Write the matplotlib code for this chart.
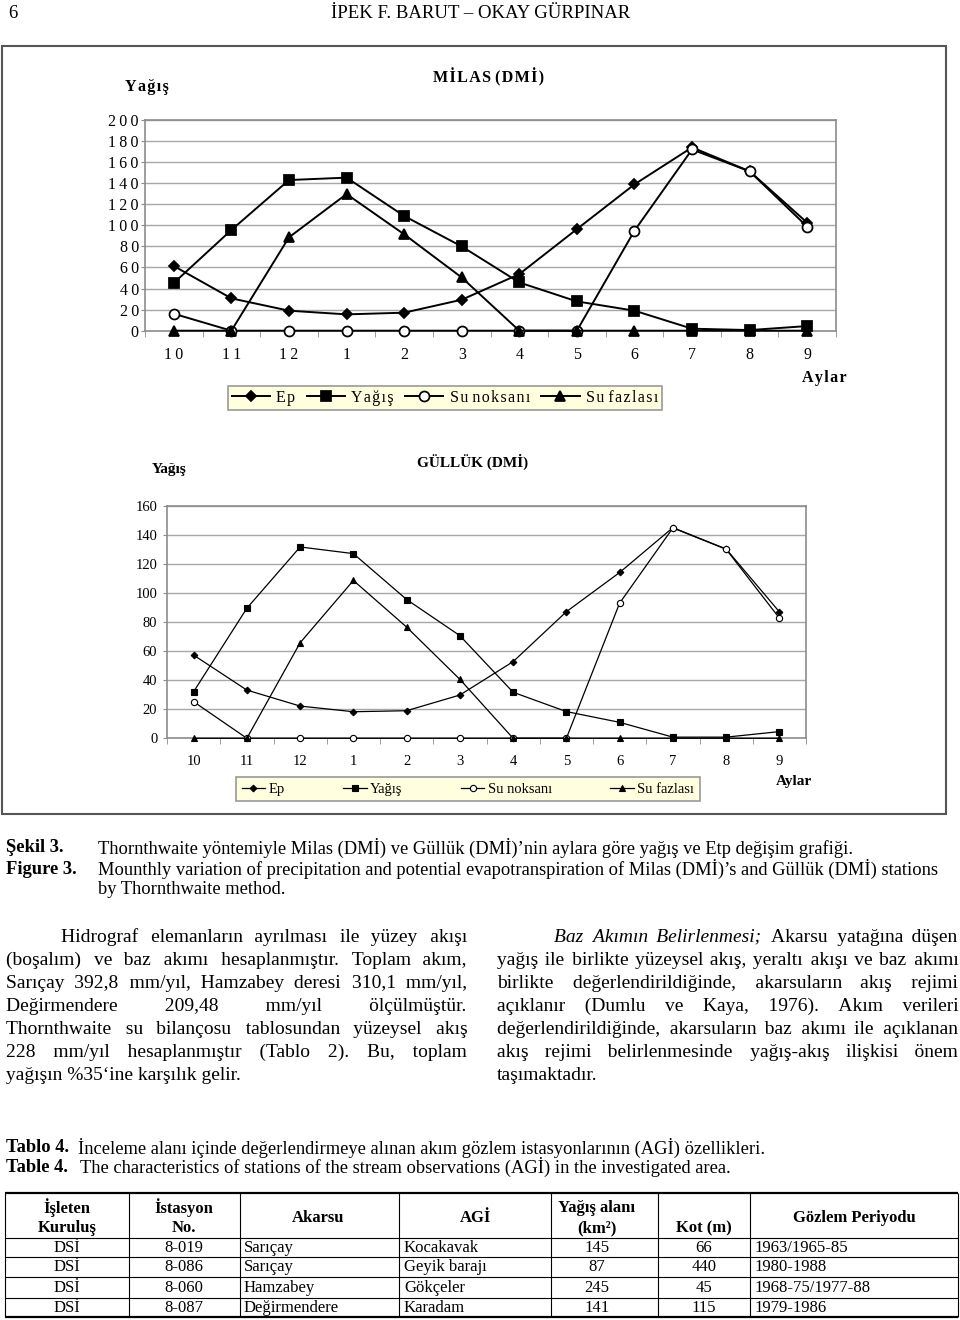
import numpy as np
import matplotlib
matplotlib.use("Agg")
from matplotlib import pyplot as plt
from matplotlib.patches import Rectangle
from matplotlib.font_manager import FontProperties

plt.rcParams['font.family'] = ['Liberation Serif', 'DejaVu Serif']

W, H = 960, 1320

months = ['10', '11', '12', '1', '2', '3', '4', '5', '6', '7', '8', '9']
series_names = ['Ep', 'Yağış', 'Su noksanı', 'Su fazlası']

# Milas (DMİ)
milas_ep = [61.4, 30.7, 19.0, 15.5, 17.1, 29.4, 53.7, 96.4, 138.9, 174.0, 151.3, 102.5]
milas_yagis = [45.3, 95.6, 143.0, 145.3, 108.9, 80.0, 45.8, 27.8, 19.0, 1.9, 0.6, 4.4]
milas_noksan = [16.1, 0, 0, 0, 0, 0, 0, 0, 94.9, 172.0, 151.3, 98.7]
milas_fazla = [0, 0, 88.6, 129.7, 91.5, 50.5, 0, 0, 0, 0, 0, 0]

# Güllük (DMİ)
gulluk_ep = [57.3, 33.2, 22.2, 18.3, 19.0, 29.8, 52.8, 87.2, 114.2, 145.1, 130.4, 87.1]
gulluk_yagis = [32.1, 89.6, 131.8, 127.2, 95.6, 70.7, 31.7, 18.4, 11.0, 0.8, 0.8, 4.6]
gulluk_noksan = [25.2, 0, 0, 0, 0, 0, 0, 0, 93.1, 144.9, 130.2, 82.8]
gulluk_fazla = [0, 0, 65.8, 108.7, 76.6, 40.6, 0, 0, 0, 0, 0, 0]

# table 4
tbl_kurulus = ['DSİ', 'DSİ', 'DSİ', 'DSİ']
tbl_istasyon = ['8-019', '8-086', '8-060', '8-087']
tbl_akarsu = ['Sarıçay', 'Sarıçay', 'Hamzabey', 'Değirmendere']
tbl_agi = ['Kocakavak', 'Geyik barajı', 'Gökçeler', 'Karadam']
tbl_alan = [145, 87, 245, 141]
tbl_kot = [66, 440, 45, 115]
tbl_periyot = ['1963/1965-85', '1980-1988', '1968-75/1977-88', '1979-1986']

para_left = [
    'Hidrograf elemanların ayrılması ile yüzey akışı',
    '(boşalım) ve baz akımı hesaplanmıştır. Toplam akım,',
    'Sarıçay 392,8 mm/yıl, Hamzabey deresi 310,1 mm/yıl,',
    'Değirmendere 209,48 mm/yıl ölçülmüştür.',
    'Thornthwaite su bilançosu tablosundan yüzeysel akış',
    '228 mm/yıl hesaplanmıştır (Tablo 2). Bu, toplam',
    'yağışın %35‘ine karşılık gelir.',
]
para_right = [
    'Baz Akımın Belirlenmesi; Akarsu yatağına düşen',
    'yağış ile birlikte yüzeysel akış, yeraltı akışı ve baz akımı',
    'birlikte değerlendirildiğinde, akarsuların akış rejimi',
    'açıklanır (Dumlu ve Kaya, 1976). Akım verileri',
    'değerlendirildiğinde, akarsuların baz akımı ile açıklanan',
    'akış rejimi belirlenmesinde yağış-akış ilişkisi önem',
    'taşımaktadır.',
]

THIN = '\u2009'
HAIR = '\u200a'


def rect(l, t, r, b):
    return [l / W, 1 - b / H, (r - l) / W, (b - t) / H]


def spaced(s, sp):
    # letter spacing for the first chart, real spaces left alone
    if not sp:
        return s
    return ' '.join(sp.join(w) for w in s.split(' '))


fig = plt.figure(figsize=(9.6, 13.2), dpi=100)
page = fig.add_axes([0, 0, 1, 1])
page.set_xlim(0, W)
page.set_ylim(H, 0)
page.axis('off')

page.add_patch(Rectangle((2, 46), 944, 768, fill=False, ec='#555555', lw=1.5))


def chart(box, ymax, values, fs, lw, ms, nsp, wsp, tpad, ypad, legxy, legkw):
    ax = fig.add_axes(rect(*box))
    x = np.arange(len(months))
    markers = ['D', 's', 'o', '^']
    sizes = [ms * 0.75, ms, ms, ms * 1.05]
    hs = []
    for vals, m, s, name in zip(values, markers, sizes, series_names):
        h, = ax.plot(x, vals, color='black', lw=lw, marker=m, ms=s,
                     mfc='white' if m == 'o' else 'black', mec='black',
                     mew=lw * 0.9, label=spaced(name, wsp), clip_on=False, zorder=3)
        hs.append(h)
    ax.set_xlim(-0.5, 11.5)
    ax.set_ylim(0, ymax)
    yt = list(range(0, ymax + 1, 20))
    ax.set_yticks(yt)
    ax.set_yticklabels([spaced(str(v), nsp) for v in yt], fontsize=fs)
    ax.set_xticks(x)
    ax.set_xticklabels([spaced(m, nsp) for m in months], fontsize=fs)
    ax.set_xticks(np.arange(-0.5, 12), minor=True)
    ax.tick_params(axis='x', which='major', length=0, pad=tpad)
    ax.tick_params(axis='x', which='minor', length=4, color='#8c8c8c')
    ax.tick_params(axis='y', length=3, color='#8c8c8c', pad=ypad)
    ax.grid(axis='y', color='#a8a8a8', lw=1)
    ax.set_axisbelow(True)
    for sp in ax.spines.values():
        sp.set_color('#8c8c8c')
        sp.set_linewidth(1.2)
    leg = ax.legend(handles=hs, loc='center', bbox_to_anchor=(legxy[0] / W, 1 - legxy[1] / H),
                    bbox_transform=fig.transFigure, ncol=4, fontsize=fs, frameon=True,
                    fancybox=False, facecolor='#ffffe0', edgecolor='#9a9a9a', framealpha=1,
                    numpoints=1, **legkw)
    leg.get_frame().set_linewidth(1.2)
    return ax


chart((145, 120, 836, 330.7), 200, [milas_ep, milas_yagis, milas_noksan, milas_fazla],
      11.5, 1.4, 7.2, THIN, HAIR, 12, 1.5, (445, 398),
      dict(handlelength=2.4, handletextpad=0.4, columnspacing=0.7, borderpad=0.25))
page.text(125, 87, spaced('Yağış', HAIR), fontsize=11.5, fontweight='bold', va='center')
page.text(489, 77, spaced('MİLAS (DMİ)', HAIR), fontsize=11.5,
          fontweight='bold', va='center', ha='center')
page.text(802, 378, spaced('Aylar', HAIR), fontsize=11.5, fontweight='bold', va='center')

chart((167, 506, 806, 738.3), 160, [gulluk_ep, gulluk_yagis, gulluk_noksan, gulluk_fazla],
      10.5, 0.9, 4.5, '', '', 12, 4, (468, 789),
      dict(handlelength=1.6, handletextpad=0.25, columnspacing=4.0, borderpad=0.4))
page.text(152, 470, 'Yağış', fontsize=11, fontweight='bold', va='center')
page.text(473, 462, 'GÜLLÜK (DMİ)', fontsize=11, fontweight='bold', va='center', ha='center')
page.text(776, 781, 'Aylar', fontsize=11, fontweight='bold', va='center')

# header
page.text(8, 13, '6', fontsize=13.5, va='center')
page.text(481, 13, 'İPEK F. BARUT – OKAY GÜRPINAR', fontsize=13.5, va='center', ha='center')

# figure caption
cap = 13.3
page.text(6, 848, 'Şekil 3.', fontsize=cap, fontweight='bold', va='center')
page.text(98, 848, 'Thornthwaite yöntemiyle Milas (DMİ) ve Güllük (DMİ)’nin aylara göre yağış ve Etp değişim grafiği.',
          fontsize=cap, va='center')
page.text(6, 869, 'Figure 3.', fontsize=cap, fontweight='bold', va='center')
page.text(98, 869, 'Mounthly variation of precipitation and potential evapotranspiration of Milas (DMİ)’s and Güllük (DMİ) stations',
          fontsize=cap, va='center')
page.text(98, 889, 'by Thornthwaite method.', fontsize=cap, va='center')

renderer = fig.canvas.get_renderer()


def measure(s, size, style):
    t = page.text(0, 0, s, fontsize=size, style=style)
    w = t.get_window_extent(renderer).width
    t.remove()
    return w


def put_run(x, y, s, size, style):
    # runs whose only descender is a small one (, ;) come out a bit low
    fp = FontProperties(family=plt.rcParams['font.family'], size=size, style=style)
    d = renderer.get_text_width_height_descent(s, fp, ismath=False)[2]
    dl = renderer.get_text_width_height_descent('lp', fp, ismath=False)[2]
    shift = 0.5 * (dl - d) if 0 < d < dl - 0.5 else 0
    page.text(x, y + 5 - shift, s, fontsize=size, style=style, va='baseline')


def justify(line, x0, x1, y, size, last, n_italic=0):
    # one text per style run; the gaps are made of spaces and hair spaces
    words = line.split(' ')
    styles = ['italic' if i < n_italic else 'normal' for i in range(len(words))]
    ww = [measure(w, size, s) for w, s in zip(words, styles)]
    unit = {}
    for s in set(styles):
        base = measure('aa', size, s)
        unit[s] = (measure('a a', size, s) - base, measure('a' + HAIR + 'a', size, s) - base)
    if last or len(words) < 2:
        gap = unit['normal'][0]
    else:
        gap = (x1 - x0 - sum(ww)) / (len(words) - 1)
    run, run_x, run_style = words[0], x0, styles[0]
    pos = target = x0 + ww[0]
    for w, wi, s in zip(words[1:], ww[1:], styles[1:]):
        target += gap
        if s != run_style:
            put_run(run_x, y, run, size, run_style)
            run, run_x, run_style = w, target, s
            pos = target + wi
        else:
            sp, hr = unit[s]
            need = target - pos
            ns = max(1, int(need // sp))
            nh = max(0, int(round((need - ns * sp) / hr))) if hr > 0.3 else 0
            run += ' ' * ns + HAIR * nh + w
            pos += ns * sp + nh * hr + wi
        target += wi
    put_run(run_x, y, run, size, run_style)


psize = 14
ly = [937, 960, 983, 1006, 1029, 1052, 1075]
for i, line in enumerate(para_left):
    justify(line, 61 if i == 0 else 6, 467, ly[i], psize, i == len(para_left) - 1)
for i, line in enumerate(para_right):
    justify(line, 554 if i == 0 else 497, 958, ly[i], psize, i == len(para_right) - 1,
            3 if i == 0 else 0)

# table caption
page.text(6, 1148, 'Tablo 4.', fontsize=cap, fontweight='bold', va='center')
page.text(78, 1148, 'İnceleme alanı içinde değerlendirmeye alınan akım gözlem istasyonlarının (AGİ) özellikleri.',
          fontsize=cap, va='center')
page.text(6, 1167, 'Table 4.', fontsize=cap, fontweight='bold', va='center')
page.text(80, 1167, 'The characteristics of stations of the stream observations (AGİ) in the investigated area.',
          fontsize=cap, va='center')

# table grid
cols = [5, 129, 240, 399, 551, 658, 750, 958]
rows = [1193, 1238, 1257, 1277, 1298, 1317]
page.hlines(rows[1:-1], cols[0], cols[-1], color='black', lw=0.8)
page.hlines([rows[0], rows[-1]], cols[0], cols[-1], color='black', lw=1.6)
page.vlines(cols, rows[0], rows[-1], color='black', lw=0.8)

tfs = 12
hb = dict(fontsize=tfs, fontweight='bold', va='center', ha='center')
page.text(67, 1208, 'İşleten', **hb)
page.text(67, 1228, 'Kuruluş', **hb)
page.text(184, 1208, 'İstasyon', **hb)
page.text(184, 1228, 'No.', **hb)
page.text(318, 1218, 'Akarsu', **hb)
page.text(476, 1218, 'AGİ', **hb)
page.text(597, 1208, 'Yağış alanı', **hb)
page.text(597, 1228, '(km²)', **hb)
page.text(704, 1228, 'Kot (m)', **hb)
page.text(854, 1218, 'Gözlem Periyodu', **hb)

for i in range(len(tbl_istasyon)):
    y = (rows[i + 1] + rows[i + 2]) / 2
    page.text(67, y, tbl_kurulus[i], fontsize=tfs, va='center', ha='center')
    page.text(184, y, tbl_istasyon[i], fontsize=tfs, va='center', ha='center')
    page.text(244, y, tbl_akarsu[i], fontsize=tfs, va='center')
    page.text(404, y, tbl_agi[i], fontsize=tfs, va='center')
    page.text(597, y, str(tbl_alan[i]), fontsize=tfs, va='center', ha='center')
    page.text(704, y, str(tbl_kot[i]), fontsize=tfs, va='center', ha='center')
    page.text(754, y, tbl_periyot[i], fontsize=tfs, va='center')

fig.savefig('out.png', dpi=100)
